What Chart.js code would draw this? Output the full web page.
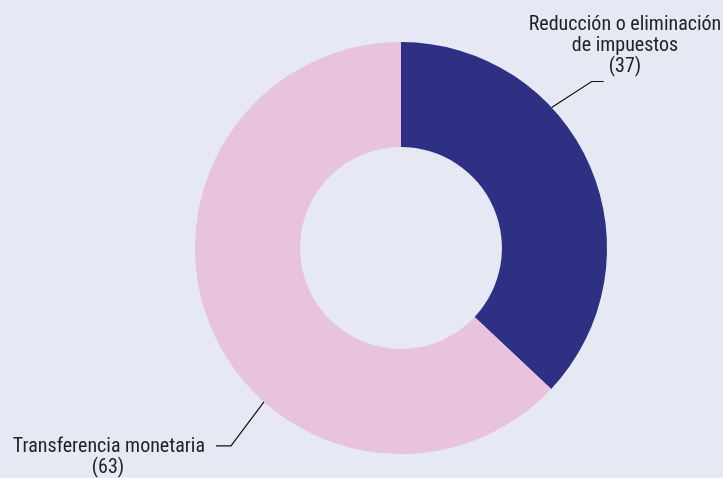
<!DOCTYPE html>
<html>
<head>
<meta charset="utf-8">
<script src="https://cdn.jsdelivr.net/npm/chart.js@4.4.0/dist/chart.umd.min.js"></script>
<style>
  html, body { margin: 0; padding: 0; background: #e6e8f4; }
  #wrap { width: 723px; height: 478px; position: relative; }
</style>
</head>
<body>
<div id="wrap"><canvas id="grafico" width="723" height="478"></canvas></div>
<script>
// datos del grafico
const categorias = ['Reducción o eliminación de impuestos', 'Transferencia monetaria'];
const valores = [37, 63];
const colores = ['#2e3084', '#e7c3de'];
// textos de las etiquetas (una linea por elemento)
const etiquetas = [
    ['Reducción o eliminación', 'de impuestos', '(37)'],
    ['Transferencia monetaria', '(63)']
];

const fuente = '20px "Liberation Sans Narrow", "Roboto Condensed", "Arial Narrow", sans-serif';

// etiquetas con lineas guia
const etiquetasGuia = {
    id: 'etiquetasGuia',
    afterDraw(chart) {
        const ctx = chart.ctx;
        const arcos = chart.getDatasetMeta(0).data;
        ctx.save();
        ctx.font = fuente;
        ctx.fillStyle = '#222';
        ctx.strokeStyle = '#111';
        ctx.lineWidth = 1.2;
        ctx.textBaseline = 'middle';

        // segmento 0: arriba a la derecha
        let a = arcos[0];
        let ang = -43 * Math.PI / 180;
        let x0 = a.x + a.outerRadius * Math.cos(ang), y0 = a.y + a.outerRadius * Math.sin(ang);
        ctx.beginPath();
        ctx.moveTo(x0, y0);
        ctx.lineTo(x0 + 40, y0 - 26);
        ctx.lineTo(x0 + 52, y0 - 26);
        ctx.stroke();
        ctx.textAlign = 'center';
        etiquetas[0].forEach((t, i) => ctx.fillText(t, 625, 25 + i * 21));

        // segmento 1: abajo a la izquierda
        a = arcos[1];
        ang = 131.7 * Math.PI / 180;
        x0 = a.x + a.outerRadius * Math.cos(ang); y0 = a.y + a.outerRadius * Math.sin(ang);
        ctx.beginPath();
        ctx.moveTo(x0, y0);
        ctx.lineTo(x0 - 33, y0 + 44);
        ctx.lineTo(x0 - 48, y0 + 44);
        ctx.stroke();
        ctx.textAlign = 'right';
        ctx.fillText(etiquetas[1][0], 205, y0 + 45);
        ctx.textAlign = 'center';
        ctx.fillText(etiquetas[1][1], 108, y0 + 66);
        ctx.restore();
    }
};

const ctx = document.getElementById('grafico').getContext('2d');
const miGrafico = new Chart(ctx, {
    type: 'doughnut',
    data: {
        labels: categorias,
        datasets: [{
            data: valores,
            backgroundColor: colores,
            borderWidth: 0
        }]
    },
    options: {
        responsive: false,
        animation: false,
        cutout: '49%',
        layout: { padding: { top: 42, bottom: 24, left: 195, right: 116 } },
        plugins: {
            legend: { display: false },
            tooltip: { enabled: false }
        }
    },
    plugins: [etiquetasGuia]
});
</script>
</body>
</html>
